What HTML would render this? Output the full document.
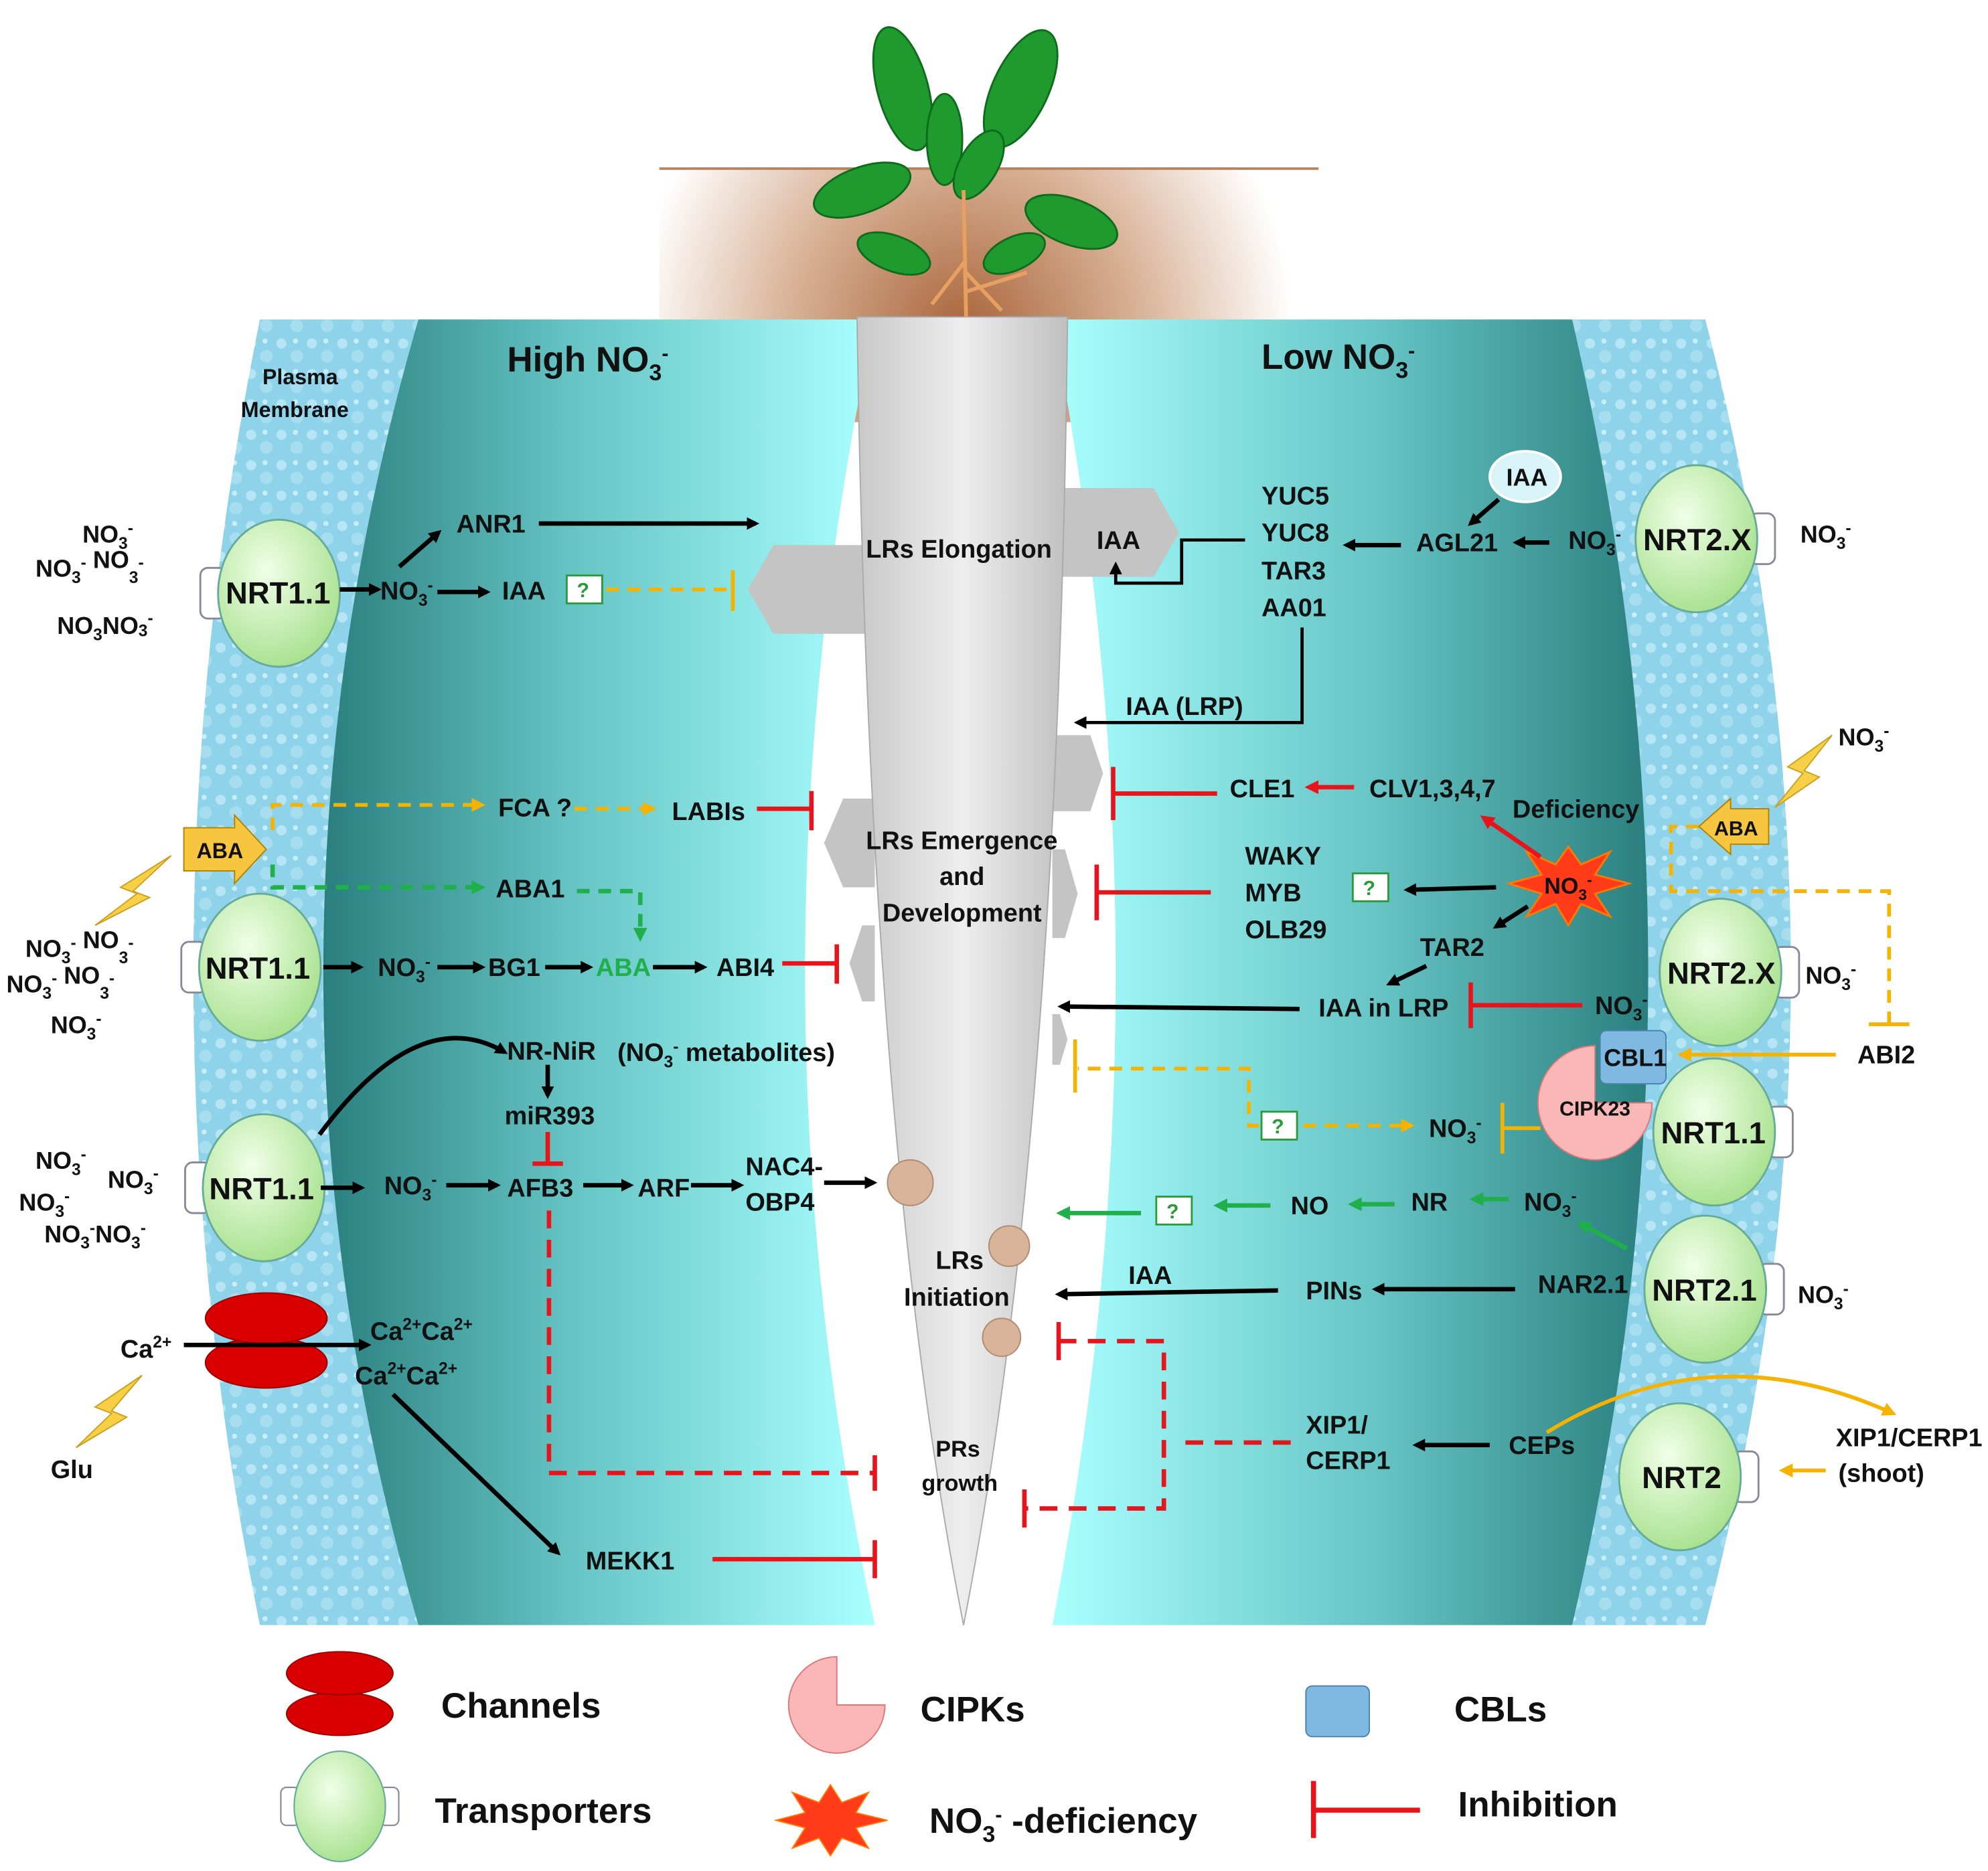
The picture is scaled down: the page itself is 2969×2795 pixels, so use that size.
<!DOCTYPE html>
<html><head><meta charset="utf-8"><style>
html,body{margin:0;padding:0;background:#fff}
svg{display:block}
text{font-family:"Liberation Sans",sans-serif;font-weight:bold;fill:#111}
</style></head><body>
<svg width="2969" height="2795" viewBox="0 0 1568 1476" preserveAspectRatio="none" xmlns="http://www.w3.org/2000/svg">
<defs>
<radialGradient id="soil" cx="760" cy="260" r="260" gradientUnits="userSpaceOnUse"><stop offset="0" stop-color="#a9663c"/><stop offset="0.5" stop-color="#d6ad90"/><stop offset="1" stop-color="#fff"/></radialGradient>
<linearGradient id="tl" x1="0" y1="0" x2="1" y2="0"><stop offset="0" stop-color="#2a7f7e"/><stop offset="0.45" stop-color="#66c4c4"/><stop offset="1" stop-color="#aaffff"/></linearGradient>
<linearGradient id="tr" x1="0" y1="0" x2="1" y2="0"><stop offset="0" stop-color="#aaffff"/><stop offset="0.55" stop-color="#66c4c4"/><stop offset="1" stop-color="#2a7f7e"/></linearGradient>
<linearGradient id="root" x1="0" y1="0" x2="1" y2="0"><stop offset="0" stop-color="#c8c8c8"/><stop offset="0.5" stop-color="#eeeeee"/><stop offset="1" stop-color="#c0c0c0"/></linearGradient>
<radialGradient id="tp" cx="0.4" cy="0.35" r="0.7"><stop offset="0" stop-color="#f0ffe8"/><stop offset="1" stop-color="#a6e08c"/></radialGradient>
<pattern id="drops" width="24" height="24" patternUnits="userSpaceOnUse"><rect width="24" height="24" fill="#8fd3ea"/><circle cx="6" cy="7" r="4" fill="#b6e6f5"/><circle cx="18" cy="17" r="5" fill="#a6def0"/><circle cx="17" cy="5" r="2" fill="#c8eef8"/></pattern>
<marker id="ak" markerWidth="10" markerHeight="10" refX="7" refY="5" orient="auto" markerUnits="userSpaceOnUse" viewBox="0 0 10 10"><path d="M0,0 L10,5 L0,10 Z" fill="#000"/></marker>
<marker id="ag" markerWidth="11" markerHeight="11" refX="8" refY="5.5" orient="auto" markerUnits="userSpaceOnUse" viewBox="0 0 11 11"><path d="M0,0 L11,5.5 L0,11 Z" fill="#1fb04b"/></marker>
<marker id="ar" markerWidth="11" markerHeight="11" refX="8" refY="5.5" orient="auto" markerUnits="userSpaceOnUse" viewBox="0 0 11 11"><path d="M0,0 L11,5.5 L0,11 Z" fill="#e8141b"/></marker>
<marker id="ao" markerWidth="11" markerHeight="11" refX="8" refY="5.5" orient="auto" markerUnits="userSpaceOnUse" viewBox="0 0 11 11"><path d="M0,0 L11,5.5 L0,11 Z" fill="#f5b300"/></marker>
<g id="tr1"><rect x="-62" y="-20" width="20" height="40" rx="6" fill="#fff" stroke="#889" stroke-width="1.5"/><ellipse cx="0" cy="0" rx="48" ry="58" fill="url(#tp)" stroke="#6a9" stroke-width="1.5"/></g>
<g id="tr2"><rect x="42" y="-20" width="20" height="40" rx="6" fill="#fff" stroke="#889" stroke-width="1.5"/><ellipse cx="0" cy="0" rx="48" ry="58" fill="url(#tp)" stroke="#6a9" stroke-width="1.5"/></g>
<g id="q"><rect x="0" y="0" width="28" height="22" fill="#fff" stroke="#2a9a3a" stroke-width="1.5"/><text x="8" y="17" font-size="16" style="fill:#2a9a3a">?</text></g>
</defs>

<!-- soil -->
<rect x="520" y="133" width="520" height="200" fill="url(#soil)"/>
<line x1="520" y1="133" x2="1040" y2="133" stroke="#b7825e" stroke-width="2"/>
<!-- membranes -->
<path d="M205 252 Q100 767 205 1282 L330 1282 Q180 767 330 252 Z" fill="url(#drops)"/>
<path d="M1345 252 Q1480 767 1345 1282 L1240 1282 Q1360 767 1240 252 Z" fill="url(#drops)"/>
<!-- teal panels -->
<path d="M330 252 Q180 767 330 1282 L690 1282 Q580 767 690 252 Z" fill="url(#tl)"/>
<path d="M830 252 Q930 767 830 1282 L1240 1282 Q1360 767 1240 252 Z" fill="url(#tr)"/>
<!-- hexes -->
<g fill="#c4c4c4">
<path d="M590 465 L610 430 L690 430 L690 500 L610 500 Z"/>
<path d="M650 665 L665 630 L690 630 L690 700 L665 700 Z"/>
<path d="M670 760 L680 730 L690 730 L690 790 L680 790 Z"/>
<path d="M930 420 L910 385 L830 385 L830 455 L910 455 Z"/>
<path d="M870 610 L860 580 L830 580 L830 640 L860 640 Z"/>
<path d="M850 705 L840 670 L830 670 L830 740 L840 740 Z"/>
<path d="M842 820 L836 800 L830 800 L830 840 L836 840 Z"/>
</g>
<!-- root -->
<path d="M676 250 L842 250 Q835 900 760 1282 Q685 900 676 250 Z" fill="url(#root)" stroke="#aaa" stroke-width="1"/>
<!-- plant -->
<g fill="#1f9a2e" stroke="#0f6a1c" stroke-width="1.5">
<ellipse cx="712" cy="70" rx="20" ry="50" transform="rotate(-15 712 70)"/>
<ellipse cx="805" cy="70" rx="22" ry="50" transform="rotate(25 805 70)"/>
<ellipse cx="680" cy="150" rx="40" ry="18" transform="rotate(-20 680 150)"/>
<ellipse cx="845" cy="175" rx="38" ry="18" transform="rotate(20 845 175)"/>
<ellipse cx="745" cy="110" rx="14" ry="36"/>
<ellipse cx="705" cy="200" rx="30" ry="14" transform="rotate(20 705 200)"/>
<ellipse cx="800" cy="200" rx="26" ry="13" transform="rotate(-25 800 200)"/>
<ellipse cx="772" cy="130" rx="15" ry="30" transform="rotate(30 772 130)"/>
</g>
<path d="M760 150 L762 250 M762 205 L735 240 M762 215 L790 245 M762 230 L810 215" stroke="#e8a060" stroke-width="3" fill="none"/>

<!-- headings -->
<text x="400" y="293" font-size="28">High NO<tspan font-size="18" dy="7">3</tspan><tspan font-size="16" dy="-16">-</tspan></text>
<text x="995" y="291" font-size="28">Low NO<tspan font-size="18" dy="7">3</tspan><tspan font-size="16" dy="-16">-</tspan></text>
<text x="207" y="303" font-size="17">Plasma</text>
<text x="190" y="329" font-size="17">Membrane</text>

<!-- transporters -->
<use href="#tr1" x="220" y="468"/><text x="178" y="476" font-size="24">NRT1.1</text>
<use href="#tr1" x="205" y="763"/><text x="162" y="772" font-size="24">NRT1.1</text>
<use href="#tr1" x="208" y="937"/><text x="165" y="946" font-size="24">NRT1.1</text>
<use href="#tr2" x="1338" y="425"/><text x="1296" y="434" font-size="24">NRT2.X</text>
<use href="#tr2" x="1357" y="767"/><text x="1315" y="776" font-size="24">NRT2.X</text>
<use href="#tr2" x="1352" y="893"/><text x="1310" y="902" font-size="24">NRT1.1</text>
<use href="#tr2" x="1345" y="1017"/><text x="1303" y="1026" font-size="24">NRT2.1</text>
<use href="#tr2" x="1325" y="1165"/><text x="1295" y="1174" font-size="24">NRT2</text>

<!-- channels -->
<ellipse cx="210" cy="1075" rx="48" ry="20" fill="#d80000" stroke="#900"/>
<ellipse cx="210" cy="1040" rx="48" ry="20" fill="#d80000" stroke="#900"/>

<!-- lightning -->
<g fill="#f7d046" stroke="#c9a020" stroke-width="1">
<path d="M135 675 L95 700 L108 705 L75 730 L118 708 L105 703 Z"/>
<path d="M112 1085 L75 1110 L88 1115 L60 1142 L100 1118 L88 1113 Z"/>
<path d="M1445 580 L1410 605 L1422 610 L1400 637 L1435 613 L1423 608 Z"/>
</g>

<!-- NO3 clusters -->
<g font-size="19">
<text x="65" y="428">NO<tspan font-size="13" dy="5">3</tspan><tspan font-size="13" dy="-12">-</tspan></text>
<text x="28" y="455">NO<tspan font-size="13" dy="5">3</tspan><tspan font-size="13" dy="-12">-</tspan> NO<tspan font-size="13" dy="12">3</tspan><tspan font-size="13" dy="-12">-</tspan></text>
<text x="45" y="500">NO<tspan font-size="13" dy="5">3</tspan><tspan dy="-5">NO</tspan><tspan font-size="13" dy="2">3</tspan><tspan font-size="13" dy="-10">-</tspan></text>
<text x="20" y="755">NO<tspan font-size="13" dy="5">3</tspan><tspan font-size="13" dy="-12">-</tspan> NO<tspan font-size="13" dy="12">3</tspan><tspan font-size="13" dy="-12">-</tspan></text>
<text x="5" y="783">NO<tspan font-size="13" dy="5">3</tspan><tspan font-size="13" dy="-12">-</tspan>  NO<tspan font-size="13" dy="12">3</tspan><tspan font-size="13" dy="-12">-</tspan></text>
<text x="40" y="815">NO<tspan font-size="13" dy="5">3</tspan><tspan font-size="13" dy="-12">-</tspan></text>
<text x="28" y="922">NO<tspan font-size="13" dy="5">3</tspan><tspan font-size="13" dy="-12">-</tspan></text>
<text x="85" y="937">NO<tspan font-size="13" dy="5">3</tspan><tspan font-size="13" dy="-12">-</tspan></text>
<text x="15" y="955">NO<tspan font-size="13" dy="5">3</tspan><tspan font-size="13" dy="-12">-</tspan></text>
<text x="35" y="980">NO<tspan font-size="13" dy="5">3</tspan><tspan font-size="13" dy="-12">-</tspan><tspan dy="7">NO</tspan><tspan font-size="13" dy="5">3</tspan><tspan font-size="13" dy="-12">-</tspan></text>
<text x="1420" y="428">NO<tspan font-size="13" dy="5">3</tspan><tspan font-size="13" dy="-12">-</tspan></text>
<text x="1424" y="776">NO<tspan font-size="13" dy="5">3</tspan><tspan font-size="13" dy="-12">-</tspan></text>
<text x="1418" y="1028">NO<tspan font-size="13" dy="5">3</tspan><tspan font-size="13" dy="-12">-</tspan></text>
<text x="1450" y="588">NO<tspan font-size="13" dy="5">3</tspan><tspan font-size="13" dy="-12">-</tspan></text>
</g>

<g font-size="20">
<text x="360" y="420">ANR1</text>
<text x="300" y="473">NO<tspan font-size="13" dy="5">3</tspan><tspan font-size="13" dy="-12">-</tspan></text>
<text x="396" y="473">IAA</text>
<text x="683" y="440">LRs  Elongation</text>
<text x="865" y="433">IAA</text>
<text x="995" y="398">YUC5</text><text x="995" y="427">YUC8</text><text x="995" y="457">TAR3</text><text x="995" y="486">AA01</text>
<text x="1117" y="435">AGL21</text>
<text x="1237" y="433">NO<tspan font-size="13" dy="5">3</tspan><tspan font-size="13" dy="-12">-</tspan></text>
<text x="888" y="564">IAA (LRP)</text>
<text x="393" y="644">FCA ?</text>
<text x="530" y="647">LABIs</text>
<text x="391" y="708">ABA1</text>
<text x="683" y="670">LRs  Emergence</text>
<text x="741" y="698">and</text>
<text x="696" y="727">Development</text>
<text x="970" y="629">CLE1</text>
<text x="1080" y="629">CLV1,3,4,7</text>
<text x="1193" y="645">Deficiency</text>
<text x="982" y="682">WAKY</text><text x="982" y="711">MYB</text><text x="982" y="740">OLB29</text>
<text x="1120" y="754">TAR2</text>
<text x="1040" y="802">IAA in LRP</text>
<text x="1258" y="800">NO<tspan font-size="13" dy="5">3</tspan><tspan font-size="13" dy="-12">-</tspan></text>
<text x="298" y="770">NO<tspan font-size="13" dy="5">3</tspan><tspan font-size="13" dy="-12">-</tspan></text>
<text x="385" y="770">BG1</text>
<text x="470" y="770" style="fill:#1fb04b">ABA</text>
<text x="565" y="770">ABI4</text>
<text x="1465" y="839">ABI2</text>
<text x="400" y="836">NR-NiR</text>
<text x="487" y="837">(NO<tspan font-size="13" dy="5">3</tspan><tspan font-size="13" dy="-12">-</tspan><tspan dy="7"> metabolites)</tspan></text>
<text x="398" y="887">miR393</text>
<text x="303" y="942">NO<tspan font-size="13" dy="5">3</tspan><tspan font-size="13" dy="-12">-</tspan></text>
<text x="400" y="944">AFB3</text>
<text x="503" y="944">ARF</text>
<text x="588" y="927">NAC4-</text>
<text x="588" y="955">OBP4</text>
<text x="1127" y="897">NO<tspan font-size="13" dy="5">3</tspan><tspan font-size="13" dy="-12">-</tspan></text>
<text x="1018" y="958">NO</text>
<text x="1113" y="955">NR</text>
<text x="1202" y="955">NO<tspan font-size="13" dy="5">3</tspan><tspan font-size="13" dy="-12">-</tspan></text>
<text x="738" y="1001">LRs</text>
<text x="713" y="1030">Initiation</text>
<text x="890" y="1013">IAA</text>
<text x="1030" y="1025">PINs</text>
<text x="1213" y="1020">NAR2.1</text>
<text x="1030" y="1131">XIP1/</text>
<text x="1030" y="1159">CERP1</text>
<text x="1190" y="1147">CEPs</text>
<text x="1448" y="1141">XIP1/CERP1</text>
<text x="1450" y="1169">(shoot)</text>
<text x="462" y="1238">MEKK1</text>
<text x="40" y="1166">Glu</text>
<text x="95" y="1071">Ca<tspan font-size="13" dy="-8">2+</tspan></text>
<text x="292" y="1057">Ca<tspan font-size="13" dy="-8">2+</tspan><tspan dy="8">Ca</tspan><tspan font-size="13" dy="-8">2+</tspan></text>
<text x="280" y="1092">Ca<tspan font-size="13" dy="-8">2+</tspan><tspan dy="8">Ca</tspan><tspan font-size="13" dy="-8">2+</tspan></text>
</g>
<text x="738" y="1149" font-size="18">PRs</text>
<text x="727" y="1176" font-size="18">growth</text>

<ellipse cx="1203" cy="376" rx="28" ry="20" fill="#d8f4f8" stroke="#fff" stroke-width="2"/>
<text x="1188" y="383" font-size="19">IAA</text>

<use href="#q" x="447" y="454"/>
<use href="#q" x="1067" y="689"/>
<use href="#q" x="995" y="877"/>
<use href="#q" x="912" y="944"/>

<g stroke="#000" stroke-width="3.5" fill="none" marker-end="url(#ak)">
<line x1="425" y1="413" x2="596" y2="413"/>
<line x1="315" y1="447" x2="346" y2="420"/>
<line x1="268" y1="465" x2="298" y2="465"/>
<line x1="345" y1="467" x2="384" y2="467"/>
<line x1="1105" y1="430" x2="1062" y2="430"/>
<line x1="1222" y1="428" x2="1196" y2="428"/>
<line x1="1182" y1="394" x2="1160" y2="413"/>
<polyline points="982,426 932,426 932,460 880,460 880,446" stroke-width="2.5"/>
<polyline points="1027,495 1027,570 850,570" stroke-width="2.5"/>
<line x1="1180" y1="700" x2="1110" y2="702"/>
<line x1="1205" y1="715" x2="1180" y2="731"/>
<line x1="1125" y1="762" x2="1096" y2="776"/>
<line x1="1025" y1="796" x2="837" y2="794"/>
<line x1="255" y1="763" x2="284" y2="763"/>
<line x1="345" y1="763" x2="380" y2="763"/>
<line x1="430" y1="763" x2="465" y2="763"/>
<line x1="515" y1="763" x2="555" y2="763"/>
<path d="M252 895 Q330 790 398 830"/>
<line x1="432" y1="840" x2="432" y2="864"/>
<line x1="253" y1="937" x2="285" y2="937"/>
<line x1="352" y1="935" x2="392" y2="935"/>
<line x1="460" y1="935" x2="497" y2="935"/>
<line x1="545" y1="935" x2="584" y2="935"/>
<line x1="650" y1="933" x2="689" y2="933"/>
<line x1="1195" y1="1017" x2="1085" y2="1017"/>
<line x1="1008" y1="1018" x2="835" y2="1021"/>
<line x1="1175" y1="1140" x2="1117" y2="1140"/>
<line x1="145" y1="1061" x2="290" y2="1061"/>
<line x1="310" y1="1100" x2="440" y2="1225"/>
</g>

<g stroke="#1fb04b" stroke-width="3.5" fill="none" marker-end="url(#ag)">
<polyline points="215,682 215,700 380,700" stroke-dasharray="10,7"/>
<polyline points="455,703 505,703 505,740" stroke-dasharray="10,7"/>
<line x1="1002" y1="951" x2="960" y2="951"/>
<line x1="1100" y1="950" x2="1066" y2="950"/>
<line x1="1190" y1="946" x2="1162" y2="946"/>
<line x1="1283" y1="985" x2="1246" y2="965"/>
<line x1="900" y1="957" x2="836" y2="957"/>
</g>

<g stroke="#f5b300" stroke-width="3" fill="none">
<line x1="478" y1="465" x2="578" y2="465" stroke-dasharray="10,7"/>
<line x1="578" y1="450" x2="578" y2="482"/>
<polyline points="215,655 215,635 380,635" stroke-dasharray="10,7" marker-end="url(#ao)"/>
<line x1="453" y1="638" x2="515" y2="638" stroke-dasharray="10,7" marker-end="url(#ao)"/>
<polyline points="1340,652 1318,652 1318,703 1490,703 1490,808" stroke-dasharray="10,7"/>
<line x1="1474" y1="808" x2="1506" y2="808"/>
<line x1="1448" y1="832" x2="1326" y2="832" marker-end="url(#ao)"/>
<line x1="1215" y1="890" x2="1185" y2="890"/>
<line x1="1185" y1="870" x2="1185" y2="910"/>
<line x1="1028" y1="888" x2="1113" y2="888" stroke-dasharray="10,7" marker-end="url(#ao)"/>
<polyline points="993,888 985,888 985,843 850,843" stroke-dasharray="10,7"/>
<line x1="848" y1="820" x2="848" y2="862"/>
<path d="M1220 1130 Q1350 1050 1493 1115" marker-end="url(#ao)"/>
<line x1="1440" y1="1160" x2="1406" y2="1160" marker-end="url(#ao)"/>
</g>
<path d="M145 653 L185 653 L185 643 L210 670 L185 697 L185 687 L145 687 Z" fill="#f7c640" stroke="#b08000"/>
<text x="155" y="677" font-size="17">ABA</text>
<path d="M1395 638 L1365 638 L1365 630 L1340 652 L1365 674 L1365 666 L1395 666 Z" fill="#f7c640" stroke="#b08000"/>
<text x="1352" y="659" font-size="16">ABA</text>

<path d="M1258 870 L1258 825 A45 45 0 1 0 1303 870 Z" fill="#f9b7b7" stroke="#d77"/>
<text x="1230" y="880" font-size="16">CIPK23</text>
<rect x="1262" y="813" width="52" height="42" rx="5" fill="#7fb8e0" stroke="#4a80b0"/>
<text x="1265" y="841" font-size="19">CBL1</text>

<path d="M1237 668 L1247 682 L1270 672 L1258 690 L1285 697 L1258 705 L1270 723 L1247 713 L1237 730 L1227 713 L1204 723 L1216 705 L1190 697 L1216 690 L1204 672 L1227 682 Z" fill="#ff3b1a" stroke="#ff7a00" stroke-width="1.5"/>
<text x="1218" y="705" font-size="18">NO<tspan font-size="12" dy="5">3</tspan><tspan font-size="12" dy="-12">-</tspan></text>

<g stroke="#e8141b" stroke-width="3.5" fill="none">
<line x1="1068" y1="621" x2="1032" y2="621" marker-end="url(#ar)"/>
<line x1="960" y1="626" x2="878" y2="626"/><line x1="878" y1="605" x2="878" y2="647"/>
<line x1="1215" y1="676" x2="1170" y2="645" marker-end="url(#ar)"/>
<line x1="955" y1="704" x2="865" y2="704"/><line x1="865" y1="682" x2="865" y2="726"/>
<line x1="1248" y1="793" x2="1160" y2="793"/><line x1="1160" y1="775" x2="1160" y2="811"/>
<line x1="597" y1="638" x2="640" y2="638"/><line x1="640" y1="624" x2="640" y2="655"/>
<line x1="617" y1="760" x2="660" y2="760"/><line x1="660" y1="745" x2="660" y2="776"/>
<line x1="432" y1="893" x2="432" y2="918"/><line x1="420" y1="918" x2="444" y2="918"/>
<polyline points="433,955 433,1162 690,1162" stroke-dasharray="14,9"/><line x1="690" y1="1148" x2="690" y2="1176"/>
<line x1="562" y1="1230" x2="690" y2="1230"/><line x1="690" y1="1215" x2="690" y2="1245"/>
<line x1="935" y1="1138" x2="1020" y2="1138" stroke-dasharray="14,9"/>
<polyline points="835,1058 918,1058 918,1190 808,1190" stroke-dasharray="14,9"/>
<line x1="835" y1="1043" x2="835" y2="1073"/><line x1="808" y1="1175" x2="808" y2="1205"/>
</g>

<g fill="#d8b49a" stroke="#b08a70"><circle cx="718" cy="933" r="18"/><circle cx="796" cy="983" r="16"/><circle cx="790" cy="1055" r="15"/></g>

<ellipse cx="268" cy="1352" rx="42" ry="17" fill="#d80000" stroke="#900"/>
<ellipse cx="268" cy="1320" rx="42" ry="17" fill="#d80000" stroke="#900"/>
<text x="348" y="1355" font-size="28">Channels</text>
<g transform="translate(268 1425) scale(0.75)"><rect x="-62" y="-20" width="20" height="40" rx="6" fill="#fff" stroke="#889" stroke-width="1.5"/><rect x="42" y="-20" width="20" height="40" rx="6" fill="#fff" stroke="#889" stroke-width="1.5"/><ellipse cx="0" cy="0" rx="48" ry="58" fill="url(#tp)" stroke="#6a9" stroke-width="1.5"/></g>
<text x="343" y="1438" font-size="28">Transporters</text>
<path d="M660 1345 L660 1307 A38 38 0 1 0 698 1345 Z" fill="#f9b7b7" stroke="#d77"/>
<text x="726" y="1358" font-size="28">CIPKs</text>
<path d="M655 1408 L664 1422 L685 1414 L675 1430 L700 1436 L675 1442 L685 1458 L664 1450 L655 1464 L646 1450 L625 1458 L635 1442 L612 1436 L635 1430 L625 1414 L646 1422 Z" fill="#ff3b1a" stroke="#ff7a00"/>
<text x="733" y="1446" font-size="28">NO<tspan font-size="18" dy="7">3</tspan><tspan font-size="16" dy="-16">-</tspan><tspan dy="9"> -deficiency</tspan></text>
<rect x="1030" y="1330" width="50" height="40" rx="5" fill="#7fb8e0" stroke="#4a80b0"/>
<text x="1147" y="1358" font-size="28">CBLs</text>
<line x1="1036" y1="1428" x2="1120" y2="1428" stroke="#e8141b" stroke-width="4"/>
<line x1="1036" y1="1405" x2="1036" y2="1450" stroke="#e8141b" stroke-width="4"/>
<text x="1150" y="1433" font-size="28">Inhibition</text>
</svg>
</body></html>
